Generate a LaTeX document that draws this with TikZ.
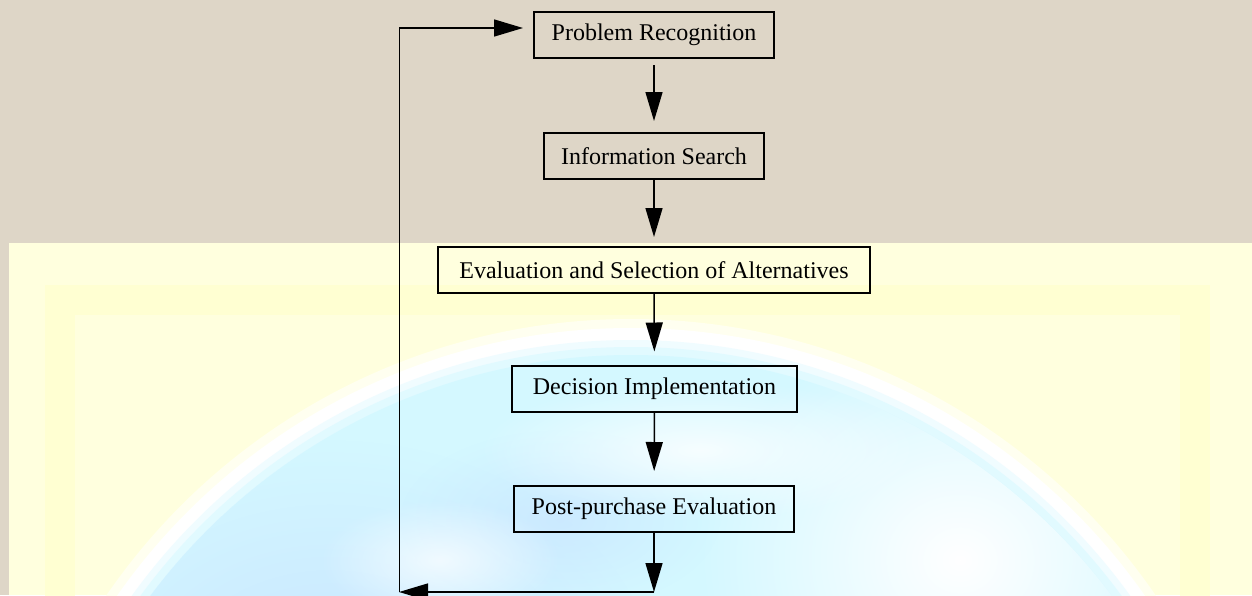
\documentclass[tikz,border=0pt]{standalone}
\usepackage{fontspec}
\setmainfont{Liberation Serif}
\usetikzlibrary{arrows.meta,fadings}
\definecolor{beige}{RGB}{222,214,199}
\definecolor{paleyellow}{RGB}{255,255,222}
\definecolor{bandyellow}{RGB}{255,255,208}
\definecolor{globeblue}{RGB}{200,228,255}
\definecolor{globecyan}{RGB}{212,248,255}
\tikzfading[name=fuzzy, inner color=transparent!0, outer color=transparent!100]
\tikzset{
  stagebox/.style={draw=black, line width=2pt, minimum height=46pt, inner sep=0pt,
    font=\fontsize{24}{29}\selectfont, text=black},
  flowarrow/.style={line width=1.5pt, -{Triangle[length=29pt,width=17pt]}},
  backline/.style={line width=1pt},
}
\begin{document}
\begin{tikzpicture}[x=1pt,y=-1pt]
\useasboundingbox (0,0) rectangle (1252,595);
% background
\fill[beige] (0,0) rectangle (1252,595);
\fill[paleyellow] (9,243) rectangle (1252,595);
\draw[bandyellow, line width=30pt, opacity=0.8] (60,300) rectangle (1195,640);
\begin{scope}
\clip (9,243) rectangle (1252,595);
\coordinate (gc) at (631,955);
\fill[white!55!paleyellow] (gc) circle (636);
\fill[white] (gc) circle (627);
\fill[globecyan!35!white] (gc) circle (615);
\fill[globecyan!70!white] (gc) circle (608);
\fill[globecyan] (gc) circle (600);
\begin{scope}
\clip (gc) circle (600);
\fill[globeblue, path fading=fuzzy] (330,700) ellipse (330 and 260);
\fill[globeblue, path fading=fuzzy, opacity=0.7] (560,520) ellipse (160 and 90);
\fill[white, path fading=fuzzy] (960,560) ellipse (260 and 230);
\fill[white, path fading=fuzzy, opacity=0.8] (700,450) ellipse (220 and 70);
\fill[white, path fading=fuzzy, opacity=0.7] (440,560) ellipse (120 and 60);
\end{scope}
\end{scope}
% nodes
\node[stagebox, minimum width=240pt] (pr) at (654,35) {Problem Recognition};
\node[stagebox, minimum width=220pt] (is) at (654,156) {Information Search};
\node[stagebox, minimum width=432pt] (ev) at (654,270) {Evaluation and Selection of Alternatives};
\node[stagebox, minimum width=285pt] (di) at (654.5,388.5) {Decision Implementation};
\node[stagebox, minimum width=280pt] (pp) at (654,509) {Post-purchase Evaluation};
% feedback coordinates
\coordinate (bottom) at (654,592);
\coordinate (corner) at (399,592);
\coordinate (topcorner) at (399,28);
\coordinate (topend) at (523,28);
% connectors
\draw[flowarrow, shorten <=6pt, shorten >=11pt] (pr) -- (is);
\draw[flowarrow, shorten >=9pt] (is) -- (ev);
\draw[flowarrow, shorten >=13pt] (ev) -- (di);
\draw[flowarrow, shorten >=14pt] (di) -- (pp);
\draw[flowarrow] (pp) -- (bottom);
\draw[flowarrow] (bottom) -- (corner);
\draw[backline] (corner) -- (topcorner);
\draw[flowarrow] (topcorner) -- (topend);
\end{tikzpicture}
\end{document}
